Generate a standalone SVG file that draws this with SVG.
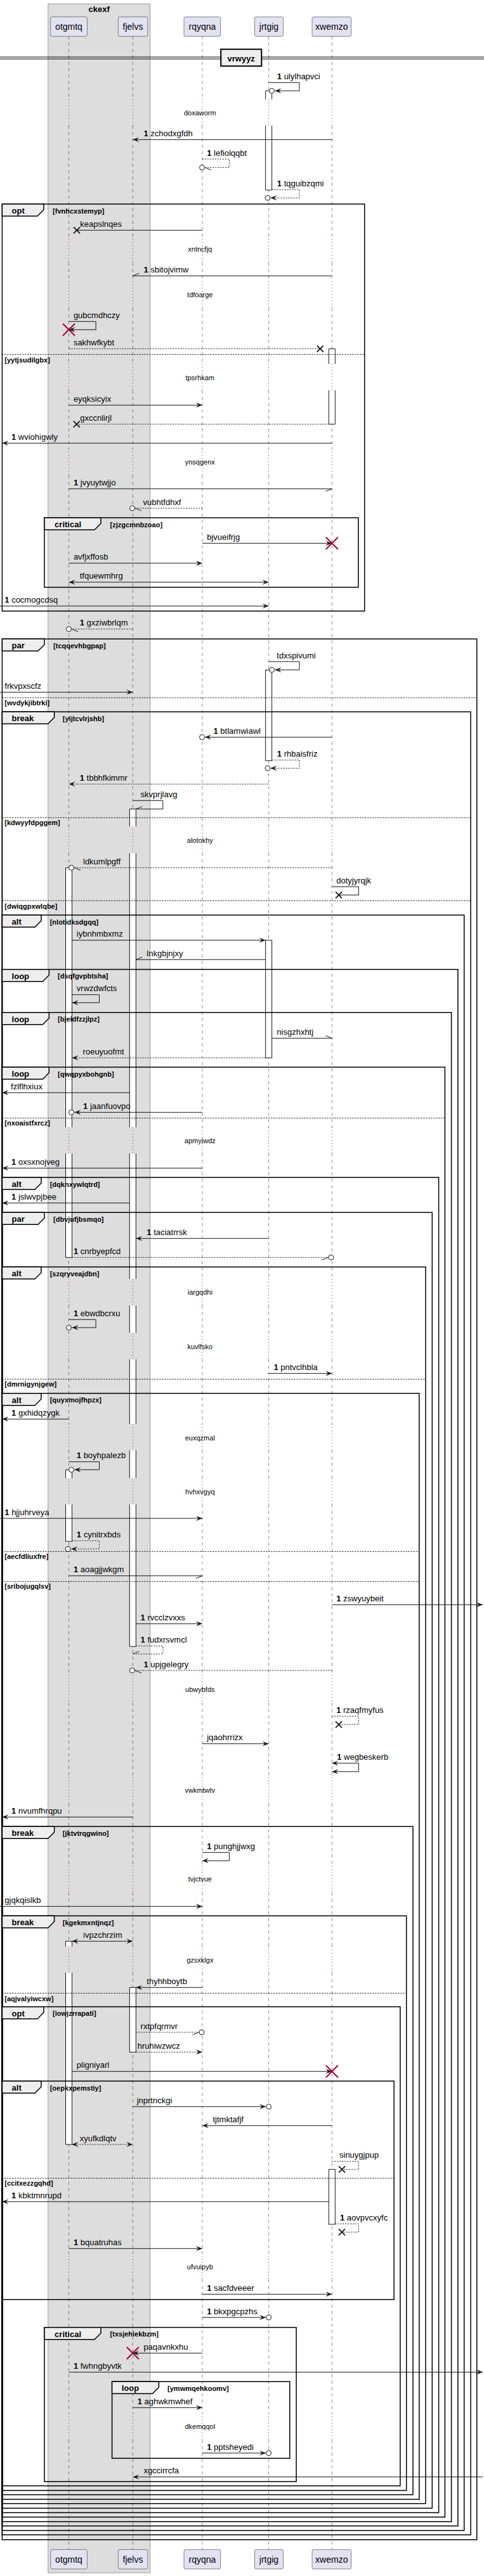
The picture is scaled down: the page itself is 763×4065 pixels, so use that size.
<svg xmlns="http://www.w3.org/2000/svg" width="763" height="4065" viewBox="0 0 763 4065">
<defs>
<style>
text{font-family:"Liberation Sans",Arial,sans-serif;fill:#000}
.t{font-size:13px}
.b{font-weight:bold}
.pt{font-size:14px;text-anchor:middle}
.dt{font-size:11px;text-anchor:middle}
.ft{font-size:13px;font-weight:bold}
.gt{font-size:11px;font-weight:bold}
.pb{fill:#E2E2F0;stroke:#181818;stroke-width:0.5}
.ll{fill:none;stroke:#181818;stroke-width:0.5;stroke-dasharray:5,5}
.dl{fill:none;stroke:#A80036;stroke-width:1;stroke-dasharray:1,4}
.ab{fill:#fff;stroke:#181818;stroke-width:1}
.aw{fill:#fff;stroke:none}
.al{fill:none;stroke:#181818;stroke-width:1}
.fr{fill:none;stroke:#000;stroke-width:1.5}
.tab{fill:#EEEEEE;stroke:#000;stroke-width:1.5}
.dv{fill:none;stroke:#000;stroke-width:1;stroke-dasharray:2,2}
.m{fill:none;stroke:#181818;stroke-width:1}
.d{fill:none;stroke:#181818;stroke-width:1;stroke-dasharray:2,2}
.a{marker-end:url(#ah)}
.s{marker-start:url(#ah)}
.u{marker-end:url(#hU)}
.l{marker-end:url(#hL)}
.c{fill:#fff;stroke:#181818;stroke-width:1}
.xk{fill:none;stroke:#181818;stroke-width:1.8}
.xr{fill:none;stroke:#A80036;stroke-width:2}
</style>
<marker id="ah" viewBox="0 0 10 8" refX="10" refY="4" markerWidth="10" markerHeight="8" markerUnits="userSpaceOnUse" orient="auto-start-reverse"><path d="M0,0L10,4L0,8L4,4Z" fill="#181818"/></marker>
<marker id="hU" viewBox="-1 -1 12 10" refX="10" refY="4" markerWidth="12" markerHeight="10" markerUnits="userSpaceOnUse" orient="auto"><path d="M10,4L0,0" fill="none" stroke="#181818" stroke-width="1"/></marker>
<marker id="hL" viewBox="-1 -1 12 10" refX="10" refY="4" markerWidth="12" markerHeight="10" markerUnits="userSpaceOnUse" orient="auto"><path d="M10,4L0,8" fill="none" stroke="#181818" stroke-width="1"/></marker>
<path id="lp" d="M0,57.3V156.7M0,198.3V372.3M0,414.3V444M0,486V574.3M0,616V708.3M0,750.3V1304.3M0,1346V1779M0,1820V2018.3M0,2060V2103.3M0,2145V2247.3M0,2288.3V2332.7M0,2374V2643.3M0,2686.7V2804.3M0,2846.3V2944.3M0,2986.3V3071.7M0,3112.7V3555M0,3596.7V3808.3M0,3850.3V4023.3"/>
<path id="dp" d="M0,156.7V198.3M0,372.3V414.3M0,444V486M0,574.3V616M0,708.3V750.3M0,1304.3V1346M0,1779V1820M0,2018.3V2060M0,2103.3V2145M0,2247.3V2288.3M0,2332.7V2374M0,2643.3V2686.7M0,2804.3V2846.3M0,2944.3V2986.3M0,3071.7V3112.7M0,3555V3596.7M0,3808.3V3850.3"/>
</defs>
<rect width="763" height="4065" fill="#fff"/>
<g id="box-ckexf">
<rect x="75.8" y="6" width="160.9" height="4054" fill="#DDDDDD" stroke="#888888" stroke-width="0.8"/>
<text class="ft" x="156.2" y="19" text-anchor="middle">ckexf</text>
</g>
<g id="lifelines">
<use href="#lp" x="108.5" class="ll"/><use href="#lp" x="209.3" class="ll"/><use href="#lp" x="318.9" class="ll"/><use href="#lp" x="423.6" class="ll"/><use href="#lp" x="523.3" class="ll"/>
<use href="#dp" x="108.5" class="dl"/><use href="#dp" x="209.3" class="dl"/><use href="#dp" x="318.9" class="dl"/><use href="#dp" x="423.6" class="dl"/><use href="#dp" x="523.3" class="dl"/>
</g>
<g id="participant-otgmtq"><rect class="pb" x="79.7" y="26.7" width="57.7" height="30.6" rx="2.5"/><text class="pt" x="108.5" y="47">otgmtq</text><rect class="pb" x="79.7" y="4023.3" width="57.7" height="30.6" rx="2.5"/><text class="pt" x="108.5" y="4043.6">otgmtq</text></g>
<g id="participant-fjelvs"><rect class="pb" x="186.3" y="26.7" width="46.5" height="30.6" rx="2.5"/><text class="pt" x="209.5" y="47">fjelvs</text><rect class="pb" x="186.3" y="4023.3" width="46.5" height="30.6" rx="2.5"/><text class="pt" x="209.5" y="4043.6">fjelvs</text></g>
<g id="participant-rqyqna"><rect class="pb" x="290" y="26.7" width="57.7" height="30.6" rx="2.5"/><text class="pt" x="318.9" y="47">rqyqna</text><rect class="pb" x="290" y="4023.3" width="57.7" height="30.6" rx="2.5"/><text class="pt" x="318.9" y="4043.6">rqyqna</text></g>
<g id="participant-jrtgig"><rect class="pb" x="401.5" y="26.7" width="45" height="30.6" rx="2.5"/><text class="pt" x="424" y="47">jrtgig</text><rect class="pb" x="401.5" y="4023.3" width="45" height="30.6" rx="2.5"/><text class="pt" x="424" y="4043.6">jrtgig</text></g>
<g id="participant-xwemzo"><rect class="pb" x="492" y="26.7" width="61.6" height="30.6" rx="2.5"/><text class="pt" x="522.8" y="47">xwemzo</text><rect class="pb" x="492" y="4023.3" width="61.6" height="30.6" rx="2.5"/><text class="pt" x="522.8" y="4043.6">xwemzo</text></g>
<g id="activations">
<path class="ab" d="M418.6,156.7V143.3H428.6V156.7"/>
<path class="ab" d="M418.6,198.3V300H428.6V198.3"/>
<path class="ab" d="M518.3,574.3V550.3H528.3V574.3"/>
<path class="ab" d="M518.3,616V669.3H528.3V616"/>
<rect class="ab" x="418.6" y="1057.3" width="10" height="143"/>
<path class="ab" d="M204.3,1304.3V1276.7H214.3V1304.3"/>
<rect class="aw" x="204.3" y="1346" width="10" height="433"/><path class="al" d="M204.3,1346V1779M214.3,1346V1779"/>
<rect class="aw" x="204.3" y="1820" width="10" height="198.3"/><path class="al" d="M204.3,1820V2018.3M214.3,1820V2018.3"/>
<rect class="aw" x="204.3" y="2060" width="10" height="43.3"/><path class="al" d="M204.3,2060V2103.3M214.3,2060V2103.3"/>
<rect class="aw" x="204.3" y="2145" width="10" height="102.3"/><path class="al" d="M204.3,2145V2247.3M214.3,2145V2247.3"/>
<rect class="aw" x="204.3" y="2288.3" width="10" height="44.4"/><path class="al" d="M204.3,2288.3V2332.7M214.3,2288.3V2332.7"/>
<path class="ab" d="M204.3,2374V2598.3H214.3V2374"/>
<path class="ab" d="M103.5,1779V1369.3H113.5V1779"/>
<path class="ab" d="M103.5,1820V1984.3H113.5V1820"/>
<rect class="ab" x="418.6" y="1483.7" width="10" height="185.6"/>
<path class="ab" d="M103.5,2332.7V2319.3H113.5V2332.7"/>
<path class="ab" d="M103.5,2374V2432.3H113.5V2374"/>
<rect class="ab" x="204.3" y="3136.3" width="10" height="102"/>
<path class="ab" d="M103.5,3071.7V3063.3H113.5V3071.7"/>
<path class="ab" d="M103.5,3112.7V3384H113.5V3112.7"/>
<rect class="ab" x="518.3" y="3423.3" width="10" height="86.7"/>
</g>
<g id="divider-vrwyyz">
<path d="M0,90H763M0,93H763" stroke="#000" stroke-width="1"/>
<rect x="348.2" y="77.7" width="64.1" height="26.6" fill="#EEEEEE" stroke="#000" stroke-width="2"/>
<text class="ft" x="380.2" y="96.5" text-anchor="middle">vrwyyz</text>
</g>
<g id="frames">
<rect class="fr" x="3.4" y="322" width="571.3" height="642.3"/><path class="tab" d="M3.4,322H69V331L59,341H3.4Z"/><text class="ft" x="18.6" y="337">opt</text><text class="gt" x="83.1" y="336.5">[fvnhcxstemyp]</text>
<path class="dv" d="M3.4,559.3H574.7"/><text class="gt" x="7.3" y="571.5">[yytjsudilgbx]</text>
<rect class="fr" x="70" y="817" width="494.9" height="109.7"/><path class="tab" d="M70,817H159V826L149,836H70Z"/><text class="ft" x="86.1" y="832">critical</text><text class="gt" x="173.6" y="831.5">[zjzgcmnbzoao]</text>
<rect class="fr" x="3.4" y="1008.3" width="748.3" height="2999.4"/><path class="tab" d="M3.4,1008.3H70V1017.3L60,1027.3H3.4Z"/><text class="ft" x="18.6" y="1023.3">par</text><text class="gt" x="84.1" y="1022.8">[tcqqevhbgpap]</text>
<path class="dv" d="M3.4,1101H751.7"/><text class="gt" x="7.3" y="1113">[wvdykjibtrki]</text>
<rect class="fr" x="3.4" y="1123.3" width="738.6" height="2876.7"/><path class="tab" d="M3.4,1123.3H85.6V1132.3L75.6,1142.3H3.4Z"/><text class="ft" x="18.6" y="1138.3">break</text><text class="gt" x="98.8" y="1137.8">[yijtcvlrjshb]</text>
<path class="dv" d="M3.4,1290.3H742"/><text class="gt" x="7.3" y="1302.3">[kdwyyfdpggem]</text>
<path class="dv" d="M3.4,1421.3H742"/><text class="gt" x="7.3" y="1433.5">[dwiqgpxwlqbe]</text>
<rect class="fr" x="3.4" y="1444" width="728.3" height="2549.3"/><path class="tab" d="M3.4,1444H65V1453L55,1463H3.4Z"/><text class="ft" x="18.6" y="1459">alt</text><text class="gt" x="78.7" y="1458.5">[nlotidksdgqq]</text>
<rect class="fr" x="3.4" y="1529.7" width="718.5" height="2456.3"/><path class="tab" d="M3.4,1529.7H77.3V1538.7L67.3,1548.7H3.4Z"/><text class="ft" x="18.6" y="1544.7">loop</text><text class="gt" x="91" y="1544.2">[dsqfgvpbtsha]</text>
<rect class="fr" x="3.4" y="1597.7" width="708.2" height="2381.6"/><path class="tab" d="M3.4,1597.7H77.3V1606.7L67.3,1616.7H3.4Z"/><text class="ft" x="18.6" y="1612.7">loop</text><text class="gt" x="91" y="1612.2">[bjeidfzzjlpz]</text>
<rect class="fr" x="3.4" y="1684" width="698" height="2288"/><path class="tab" d="M3.4,1684H77.3V1693L67.3,1703H3.4Z"/><text class="ft" x="18.6" y="1699">loop</text><text class="gt" x="91" y="1698.5">[qwqpyxbohgnb]</text>
<path class="dv" d="M3.4,1764.3H701.4"/><text class="gt" x="7.3" y="1776.3">[nxoaistfxrcz]</text>
<rect class="fr" x="3.4" y="1858" width="688.2" height="2107"/><path class="tab" d="M3.4,1858H65V1867L55,1877H3.4Z"/><text class="ft" x="18.6" y="1873">alt</text><text class="gt" x="78.7" y="1872.5">[dqknxywlqtrd]</text>
<rect class="fr" x="3.4" y="1913.3" width="677.9" height="2044.7"/><path class="tab" d="M3.4,1913.3H70V1922.3L60,1932.3H3.4Z"/><text class="ft" x="18.6" y="1928.3">par</text><text class="gt" x="84.1" y="1927.8">[dbvjufjbsmqo]</text>
<rect class="fr" x="3.4" y="1999.3" width="667.6" height="1951.4"/><path class="tab" d="M3.4,1999.3H65V2008.3L55,2018.3H3.4Z"/><text class="ft" x="18.6" y="2014.3">alt</text><text class="gt" x="78.7" y="2013.8">[szqryveajdbn]</text>
<path class="dv" d="M3.4,2176.3H671"/><text class="gt" x="7.3" y="2188.3">[dmrnigynjgew]</text>
<rect class="fr" x="3.4" y="2198.7" width="657.4" height="1745.3"/><path class="tab" d="M3.4,2198.7H65V2207.7L55,2217.7H3.4Z"/><text class="ft" x="18.6" y="2213.7">alt</text><text class="gt" x="78.7" y="2213.2">[quyxmojfhpzx]</text>
<path class="dv" d="M3.4,2448.3H660.8"/><text class="gt" x="7.3" y="2460.3">[aecfdliuxfre]</text>
<path class="dv" d="M3.4,2495.7H660.8"/><text class="gt" x="7.3" y="2507.2">[sribojugqlsv]</text>
<rect class="fr" x="3.4" y="2882.3" width="647.6" height="1054.4"/><path class="tab" d="M3.4,2882.3H85.6V2891.3L75.6,2901.3H3.4Z"/><text class="ft" x="18.6" y="2897.3">break</text><text class="gt" x="98.8" y="2896.8">[jktvtrqgwino]</text>
<rect class="fr" x="3.4" y="3023.3" width="637.3" height="906.7"/><path class="tab" d="M3.4,3023.3H85.6V3032.3L75.6,3042.3H3.4Z"/><text class="ft" x="18.6" y="3038.3">break</text><text class="gt" x="98.8" y="3037.8">[kgekmxntjnqz]</text>
<path class="dv" d="M3.4,3145.3H640.7"/><text class="gt" x="7.3" y="3157.7">[aqjvalyiwcxw]</text>
<rect class="fr" x="3.4" y="3166.7" width="627.5" height="756"/><path class="tab" d="M3.4,3166.7H69V3175.7L59,3185.7H3.4Z"/><text class="ft" x="18.6" y="3181.7">opt</text><text class="gt" x="83.1" y="3181.2">[iowjzrrapati]</text>
<rect class="fr" x="3.4" y="3284" width="617.7" height="344.7"/><path class="tab" d="M3.4,3284H65V3293L55,3303H3.4Z"/><text class="ft" x="18.6" y="3299">alt</text><text class="gt" x="78.7" y="3298.5">[oepkxpemstiy]</text>
<path class="dv" d="M3.4,3437.3H621.1"/><text class="gt" x="7.3" y="3449.3">[ccitxezzgqhd]</text>
<rect class="fr" x="70" y="3672.7" width="397.1" height="243.3"/><path class="tab" d="M70,3672.7H159V3681.7L149,3691.7H70Z"/><text class="ft" x="86.1" y="3687.7">critical</text><text class="gt" x="173.6" y="3687.2">[txsjehiekbzm]</text>
<rect class="fr" x="176.6" y="3758.3" width="280.2" height="121"/><path class="tab" d="M176.6,3758.3H250.4V3767.3L240.4,3777.3H176.6Z"/><text class="ft" x="191.7" y="3773.3">loop</text><text class="gt" x="264.1" y="3772.8">[ymwmqehkoomv]</text>
</g>
<g id="delays">
<text class="dt" x="315.3" y="182">doxaworm</text>
<text class="dt" x="315.3" y="396.8">xntncfjq</text>
<text class="dt" x="315.3" y="468.5">tdfoarge</text>
<text class="dt" x="315.3" y="600">tpsrhkam</text>
<text class="dt" x="315.3" y="733">ynsqgenx</text>
<text class="dt" x="315.3" y="1329.5">alotokhy</text>
<text class="dt" x="315.3" y="1804">apmyiwdz</text>
<text class="dt" x="315.3" y="2043">iargqdhi</text>
<text class="dt" x="315.3" y="2128.5">kuvlfsko</text>
<text class="dt" x="315.3" y="2273">euxqzmal</text>
<text class="dt" x="315.3" y="2357.5">hvhxvgyq</text>
<text class="dt" x="315.3" y="2669.5">ubwybfds</text>
<text class="dt" x="315.3" y="2829">vwkmtwtv</text>
<text class="dt" x="315.3" y="2969">tvjctvue</text>
<text class="dt" x="315.3" y="3097">gzsxklgx</text>
<text class="dt" x="315.3" y="3580.5">ufvuipyb</text>
<text class="dt" x="315.3" y="3833">dkemqqol</text>
</g>
<g id="connectors">
<path class="m a" d="M423.6,130.3H472V143.3H433.5"/><circle class="c" cx="428.5" cy="143.3" r="4"/><text class="t" x="436.8" y="125"><tspan class="b">1</tspan> ulylhapvci</text>
<path class="m a" d="M523.3,220.3H209.3"/><text class="t" x="226.4" y="215"><tspan class="b">1</tspan> zchodxgfdh</text>
<path class="d u" d="M318.9,251H361.4V264.3H323"/><circle class="c" cx="318.5" cy="264.3" r="4"/><text class="t" x="326.2" y="246"><tspan class="b">1</tspan> lefiolqqbt</text>
<path class="d a" d="M428.6,299.3H472V312.3H426.5"/><circle class="c" cx="422" cy="312.3" r="4"/><text class="t" x="436.8" y="294"><tspan class="b">1</tspan> tqguibzqmi</text>
<path class="m" d="M318.9,363.3H121"/><path class="xk" d="M116,358.3L126,368.3M126,358.3L116,368.3"/><text class="t" x="126.2" y="358">keapslnqes</text>
<path class="m l" d="M523.3,435.3H209.3"/><text class="t" x="226.4" y="430"><tspan class="b">1</tspan> sbitojvimw</text>
<path class="m a" d="M108.5,507.3H151.1V520.3H108.5"/><path class="xr" d="M99,510.8L118,529.8M118,510.8L99,529.8"/><text class="t" x="115.9" y="502">gubcmdhczy</text>
<path class="d" d="M108.5,550.3H504.7"/><path class="xk" d="M499.7,545.3L509.7,555.3M509.7,545.3L499.7,555.3"/><text class="t" x="115.9" y="545">sakhwfkybt</text>
<path class="m a" d="M108.5,639.3H318.9"/><text class="t" x="115.9" y="634">eyqksicyix</text>
<path class="d" d="M518.3,669.3H120.8"/><path class="xk" d="M115.8,664.3L125.8,674.3M125.8,664.3L115.8,674.3"/><text class="t" x="126.2" y="664">gxccnlirjl</text>
<path class="m a" d="M523.3,699.3H3.4"/><text class="t" x="18" y="694"><tspan class="b">1</tspan> wviohigwly</text>
<path class="m l" d="M108.5,771.3H523.3"/><text class="t" x="115.9" y="766"><tspan class="b">1</tspan> jvyuytwjjo</text>
<path class="d u" d="M318.9,802H213"/><circle class="c" cx="208.5" cy="802" r="4"/><text class="t" x="225.5" y="796.7">vubhtfdhxf</text>
<path class="m a" d="M318.9,857.3H523.3"/><path class="xr" d="M513.8,847.8L532.8,866.8M532.8,847.8L513.8,866.8"/><text class="t" x="326.2" y="852">bjvueifrjg</text>
<path class="m a" d="M108.5,888.7H318.9"/><text class="t" x="115.9" y="883.4">avfjxffosb</text>
<path class="m a s" d="M108.5,918.7H423.6"/><text class="t" x="125.7" y="913.4">tfquewmhrg</text>
<path class="m a" d="M0,956.3H423.6"/><text class="t" x="7.3" y="951"><tspan class="b">1</tspan> cocmogcdsq</text>
<path class="d u" d="M209.3,992.7H113"/><circle class="c" cx="108.5" cy="992.7" r="4"/><text class="t" x="125.7" y="987.4"><tspan class="b">1</tspan> gxziwbrlqm</text>
<path class="m a" d="M423.6,1044H472V1057H433.5"/><circle class="c" cx="428.5" cy="1057" r="4"/><text class="t" x="436.3" y="1038.7">tdxspivumi</text>
<path class="m a" d="M0,1092.3H209.3"/><text class="t" x="7.3" y="1087">frkvpxscfz</text>
<path class="m a" d="M523.3,1163.3H323"/><circle class="c" cx="318.5" cy="1163.3" r="4"/><text class="t" x="336.5" y="1158"><tspan class="b">1</tspan> btlamwiawl</text>
<path class="d a" d="M428.6,1199.3H472V1212.3H426.5"/><circle class="c" cx="422" cy="1212.3" r="4"/><text class="t" x="436.8" y="1194"><tspan class="b">1</tspan> rhbaisfriz</text>
<path class="d a" d="M423.6,1237.3H108.5"/><text class="t" x="125.7" y="1232"><tspan class="b">1</tspan> tbbhfkimmr</text>
<path class="m l" d="M209.3,1263.3H256.8V1276.7H214.3"/><text class="t" x="221.6" y="1258">skvprjlavg</text>
<path class="d u" d="M523.3,1369.3H117"/><circle class="c" cx="112.5" cy="1369.3" r="4"/><text class="t" x="131" y="1364">ldkumlpgff</text>
<path class="m" d="M523.3,1399.3H565.4V1412.3H534"/><path class="xk" d="M529,1407.3L539,1417.3M539,1407.3L529,1417.3"/><text class="t" x="530.2" y="1394">dotyjyrqjk</text>
<path class="m a" d="M113.5,1483.7H418.6"/><text class="t" x="120.8" y="1478.4">iybnhmbxmz</text>
<path class="m l" d="M418.6,1514.3H214.3"/><text class="t" x="231.3" y="1509">lnkgbjnjxy</text>
<path class="m a" d="M113.5,1569.7H156.5V1582.3H113.5"/><text class="t" x="120.8" y="1564.4">vrwzdwfcts</text>
<path class="m u" d="M428.6,1638.3H523.3"/><text class="t" x="436.3" y="1633">nisgzhxhtj</text>
<path class="d a" d="M418.6,1669.3H113.5"/><text class="t" x="130.6" y="1664">roeuyuofmt</text>
<path class="m a" d="M204.3,1724.3H3.4"/><text class="t" x="17.1" y="1719">fzlflhxiux</text>
<path class="m a" d="M318.9,1755.3H117.5"/><circle class="c" cx="112.5" cy="1755.3" r="4"/><text class="t" x="131.1" y="1750"><tspan class="b">1</tspan> jaanfuovpo</text>
<path class="m a" d="M318.9,1843.3H3.4"/><text class="t" x="18.1" y="1838"><tspan class="b">1</tspan> oxsxnojveg</text>
<path class="m a" d="M204.3,1898.3H3.4"/><text class="t" x="18.1" y="1893"><tspan class="b">1</tspan> jslwvpjbee</text>
<path class="m a" d="M423.6,1954.3H214.3"/><text class="t" x="231.3" y="1949"><tspan class="b">1</tspan> taciatrrsk</text>
<path class="d l" d="M113.5,1984.3H517.5"/><circle class="c" cx="521.9" cy="1984.3" r="4"/><text class="t" x="115.9" y="1979"><tspan class="b">1</tspan> cnrbyepfcd</text>
<path class="m a" d="M108.5,2082.3H151.1V2095H113.5"/><circle class="c" cx="108.5" cy="2095" r="4"/><text class="t" x="115.9" y="2077"><tspan class="b">1</tspan> ebwdbcrxu</text>
<path class="m a" d="M423.6,2167.3H523.3"/><text class="t" x="431.4" y="2162"><tspan class="b">1</tspan> pntvclhbla</text>
<path class="m a" d="M108.5,2239.3H3.4"/><text class="t" x="18.1" y="2234"><tspan class="b">1</tspan> gxhidqzygk</text>
<path class="m a" d="M108.5,2306.7H156.5V2319.3H117.5"/><circle class="c" cx="112.5" cy="2319.3" r="4"/><text class="t" x="120.8" y="2301.4"><tspan class="b">1</tspan> boyhpalezb</text>
<path class="m a" d="M0,2396H318.9"/><text class="t" x="7.3" y="2390.7"><tspan class="b">1</tspan> hjjuhrveya</text>
<path class="d a" d="M113.5,2431.3H156.5V2444.3H112"/><circle class="c" cx="107.1" cy="2444.3" r="4"/><text class="t" x="120.8" y="2426"><tspan class="b">1</tspan> cynitrxbds</text>
<path class="m l" d="M108.5,2486.7H318.9"/><text class="t" x="115.9" y="2481.4"><tspan class="b">1</tspan> aoagjjwkgm</text>
<path class="m a" d="M523.3,2532.3H761"/><text class="t" x="530.2" y="2527"><tspan class="b">1</tspan> zswyuybeit</text>
<path class="m a" d="M214.3,2562.3H318.9"/><text class="t" x="221.6" y="2557"><tspan class="b">1</tspan> rvcclzvxxs</text>
<path class="d l" d="M214.3,2597.3H256.8V2610H209.3"/><text class="t" x="221.6" y="2592"><tspan class="b">1</tspan> fudxrsvmcl</text>
<path class="d u" d="M523.3,2636H213"/><circle class="c" cx="208.4" cy="2636" r="4"/><text class="t" x="226.4" y="2630.7"><tspan class="b">1</tspan> upjgelegry</text>
<path class="d" d="M523.3,2708.3H565.4V2721.3H534"/><path class="xk" d="M529,2716.3L539,2726.3M539,2716.3L529,2726.3"/><text class="t" x="530.2" y="2703"><tspan class="b">1</tspan> rzaqfmyfus</text>
<path class="m a" d="M318.9,2751.7H423.6"/><text class="t" x="326.2" y="2746.4">jqaohrrizx</text>
<path class="m a s" d="M523.3,2782.3H565.4V2795.7H523.3"/><text class="t" x="531.2" y="2777"><tspan class="b">1</tspan> wegbeskerb</text>
<path class="m a" d="M209.3,2867.3H3.4"/><text class="t" x="18.1" y="2862"><tspan class="b">1</tspan> nvumfhrqpu</text>
<path class="m a" d="M318.9,2923.3H361.4V2936.3H318.9"/><text class="t" x="326.2" y="2918"><tspan class="b">1</tspan> punghjjwxg</text>
<path class="m a" d="M0,3008.3H318.9"/><text class="t" x="7.3" y="3003">gjqkqislkb</text>
<path class="m a s" d="M113.5,3063.3H209.3"/><text class="t" x="131.1" y="3058">ivpzchrzim</text>
<path class="m a" d="M318.9,3136.3H214.3"/><text class="t" x="231.3" y="3131">thyhhboytb</text>
<path class="d l" d="M214.3,3207H313.5"/><circle class="c" cx="318" cy="3207" r="4"/><text class="t" x="221.6" y="3201.7">rxtpfqrmvr</text>
<path class="d a" d="M214.3,3238.3H318.9"/><text class="t" x="216.7" y="3233">hruhiwzwcz</text>
<path class="m a" d="M113.5,3268.7H523.3"/><path class="xr" d="M513.8,3259.2L532.8,3278.2M532.8,3259.2L513.8,3278.2"/><text class="t" x="120.8" y="3263.4">pligniyarl</text>
<path class="m a" d="M209.3,3324.3H419"/><circle class="c" cx="423.6" cy="3324.3" r="4"/><text class="t" x="215.7" y="3319">jnprtnckgi</text>
<path class="m a" d="M523.3,3354.3H318.9"/><text class="t" x="335.5" y="3349">tjtmktafjf</text>
<path class="d a s" d="M113.5,3384H209.3"/><text class="t" x="125.7" y="3378.7">xyufkdlqtv</text>
<path class="d" d="M523.3,3410.7H565.4V3423.3H539"/><path class="xk" d="M534,3418.3L544,3428.3M544,3418.3L534,3428.3"/><text class="t" x="535" y="3405.4">sinuygjpup</text>
<path class="m a" d="M518.3,3474.3H3.4"/><text class="t" x="18.1" y="3469"><tspan class="b">1</tspan> kbktmnrupd</text>
<path class="d" d="M528.3,3509.3H565.4V3522.3H539"/><path class="xk" d="M534,3517.3L544,3527.3M544,3517.3L534,3527.3"/><text class="t" x="536" y="3504"><tspan class="b">1</tspan> aovpvcxyfc</text>
<path class="m a" d="M108.5,3548.3H318.9"/><text class="t" x="115.9" y="3543"><tspan class="b">1</tspan> bquatruhas</text>
<path class="m a" d="M318.9,3620.3H523.3"/><text class="t" x="326.2" y="3615"><tspan class="b">1</tspan> sacfdveeer</text>
<path class="m a" d="M318.9,3657H419"/><circle class="c" cx="423.6" cy="3657" r="4"/><text class="t" x="326.2" y="3651.7"><tspan class="b">1</tspan> bkxpgcpzhs</text>
<path class="m a" d="M318.9,3713.3H209.3"/><path class="xr" d="M199.8,3703.8L218.8,3722.8M218.8,3703.8L199.8,3722.8"/><text class="t" x="226.4" y="3708">paqavnkxhu</text>
<path class="m a" d="M108.5,3743.3H761"/><text class="t" x="115.9" y="3738"><tspan class="b">1</tspan> fwhngbyvtk</text>
<path class="m a" d="M209.3,3799.3H318.9"/><text class="t" x="216.7" y="3794"><tspan class="b">1</tspan> aghwkmwhef</text>
<path class="m a" d="M318.9,3871H419"/><circle class="c" cx="423.6" cy="3871" r="4"/><text class="t" x="326.2" y="3865.7"><tspan class="b">1</tspan> pptsheyedi</text>
<path class="m a" d="M761,3908.7H209.3"/><text class="t" x="226.4" y="3903.4">xgccirrcfa</text>
</g>
</svg>
